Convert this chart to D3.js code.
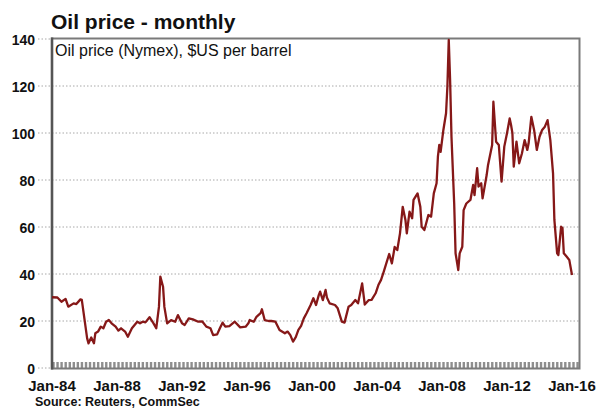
<!DOCTYPE html>
<html>
<head>
<meta charset="utf-8">
<script src="https://cdn.jsdelivr.net/npm/d3@7"></script>
<style>
  body { margin: 0; background: #fff; }
  svg { display: block; }
  text { font-family: "Liberation Sans", Arial, sans-serif; }
</style>
</head>
<body>
<svg id="chart" width="598" height="409"></svg>
<script>
// Nymex oil price, $US per barrel (month, price)
const months = [
  "1984-01","1984-05","1984-08","1984-11","1985-01","1985-05","1985-07","1985-10","1985-11",
  "1986-03","1986-04","1986-06","1986-08","1986-09","1986-11","1987-01","1987-03","1987-05",
  "1987-07","1987-09","1987-12","1988-02","1988-04","1988-07","1988-09","1988-12","1989-04",
  "1989-06","1989-08","1989-10","1990-01","1990-04","1990-06","1990-08","1990-09","1990-11",
  "1990-12","1991-02","1991-05","1991-08","1991-10","1992-01","1992-03","1992-06","1992-09",
  "1993-01","1993-04","1993-07","1993-10","1993-12","1994-03","1994-05","1994-07","1994-09",
  "1994-12","1995-04","1995-08","1995-12","1996-02","1996-03","1996-06","1996-08","1996-11",
  "1996-12","1997-02","1997-05","1997-07","1997-10","1998-01","1998-05","1998-07","1998-09",
  "1998-11","1999-01","1999-03","1999-05","1999-07","1999-09","1999-12","2000-02","2000-04",
  "2000-06","2000-07","2000-09","2000-11","2000-12","2001-02","2001-06","2001-08","2001-11",
  "2002-01","2002-04","2002-06","2002-09","2002-11","2003-02","2003-04","2003-07","2003-09",
  "2003-12","2004-02","2004-04","2004-06","2004-10","2004-12","2005-02","2005-04","2005-06",
  "2005-08","2005-10","2005-11","2006-01","2006-03","2006-04","2006-07","2006-09","2006-10",
  "2006-12","2007-03","2007-05","2007-07","2007-09","2007-10","2007-11","2007-12","2008-02",
  "2008-04","2008-05","2008-06","2008-07","2008-08","2008-10","2008-11","2009-01","2009-02",
  "2009-04","2009-05","2009-07","2009-10","2009-12","2010-01","2010-03","2010-04","2010-06",
  "2010-07","2010-10","2010-11","2011-02","2011-03","2011-05","2011-07","2011-09","2011-11",
  "2012-01","2012-03","2012-04","2012-05","2012-06","2012-08","2012-10","2012-12","2013-02",
  "2013-04","2013-05","2013-07","2013-09","2013-11","2014-01","2014-03","2014-05","2014-07",
  "2014-09","2014-11","2014-12","2015-02","2015-03","2015-05","2015-06","2015-07","2015-09",
  "2015-11","2016-01"
];
const prices = [
  30.1, 30.0, 28.2, 29.4, 26.1, 27.5, 27.2, 29.2, 29.0,
  12.6, 10.5, 13.0, 10.5, 14.8, 15.5, 17.6, 16.9, 19.7,
  20.4, 19.0, 17.6, 15.9, 16.9, 15.5, 13.3, 16.9, 19.7,
  19.0, 19.7, 19.4, 21.6, 19.0, 16.9, 26.0, 38.9, 34.6,
  26.0, 19.0, 20.4, 19.7, 22.5, 19.0, 18.3, 21.1, 20.7,
  19.7, 19.8, 17.6, 16.9, 14.0, 14.3, 16.9, 19.3, 17.6,
  17.8, 19.7, 17.3, 17.6, 19.0, 20.4, 19.7, 21.8, 23.3,
  25.0, 20.4, 20.0, 20.0, 19.7, 16.2, 14.8, 15.5, 14.0,
  11.2, 13.1, 16.2, 17.9, 21.1, 23.3, 26.8, 29.7, 26.8,
  31.0, 32.5, 28.9, 33.2, 30.0, 27.5, 26.8, 25.4, 19.7,
  19.3, 26.1, 26.8, 28.9, 27.5, 36.0, 27.0, 28.9, 29.0,
  31.8, 35.3, 37.5, 41.0, 48.5, 44.5, 51.5, 50.2, 57.3,
  68.6, 63.0, 57.3, 66.5, 63.7, 71.5, 74.3, 68.6, 60.1,
  58.7, 65.1, 64.4, 74.3, 78.6, 89.9, 94.9, 92.0, 101.3,
  108.4, 119.7, 139.6, 122.6, 98.4, 70.0, 48.8, 41.7, 48.8,
  51.6, 67.2, 70.0, 71.5, 77.9, 73.6, 85.0, 77.2, 78.6,
  72.2, 82.1, 86.4, 94.9, 113.3, 96.3, 94.9, 79.3, 94.2,
  99.9, 106.2, 103.4, 100.0, 85.7, 96.3, 87.1, 91.3, 97.0,
  92.8, 95.6, 106.9, 101.3, 92.8, 98.4, 101.3, 102.7, 105.5,
  97.0, 82.8, 63.0, 48.8, 48.1, 60.1, 59.5, 48.8, 47.4,
  46.0, 39.6
];
const yTicks = [0, 20, 40, 60, 80, 100, 120, 140];
const xTickYears = [1984, 1988, 1992, 1996, 2000, 2004, 2008, 2012, 2016];
const xTickLabels = ["Jan-84", "Jan-88", "Jan-92", "Jan-96", "Jan-00", "Jan-04", "Jan-08", "Jan-12", "Jan-16"];

const parseMonth = d3.timeParse("%Y-%m");
const series = months.map((m, i) => ({ date: parseMonth(m), value: prices[i] }));

const svg = d3.select("#chart");
const plot = { left: 52, right: 579.5, top: 38.5, bottom: 368.5 };

// Jan-84 sits on the left edge; Jan-16 sits a little inside the right edge
const x = d3.scaleTime()
  .domain([new Date(1984, 0, 1), new Date(2016, 0, 1)])
  .range([plot.left, plot.left + 520]);
const y = d3.scaleLinear().domain([0, 140]).range([368, 39]);

// Title
svg.append("text")
  .attr("x", 51).attr("y", 28.5)
  .attr("font-size", 21).attr("font-weight", "bold").attr("fill", "#111")
  .text("Oil price - monthly");

// Dotted horizontal gridlines (also run a little left of the axis)
svg.append("g").selectAll("line").data(yTicks).join("line")
  .attr("x1", 38).attr("x2", d => (d === 0 || d === 140) ? plot.left : plot.right)
  .attr("y1", d => y(d)).attr("y2", d => y(d))
  .attr("stroke", "#a8a8a8").attr("stroke-width", 1)
  .attr("stroke-dasharray", "1.5,2");

// Y tick labels
svg.append("g").selectAll("text").data(yTicks).join("text")
  .attr("x", 35).attr("y", d => y(d) + 1)
  .attr("dy", "0.35em").attr("text-anchor", "end")
  .attr("font-size", 14).attr("font-weight", "bold").attr("fill", "#111")
  .text(d => d);

// Quarterly tick band along the bottom axis
const quarters = d3.timeMonth.every(3).range(new Date(1984, 0, 1), x.invert(plot.right - 1));
svg.append("g").selectAll("line").data(quarters).join("line")
  .attr("x1", d => x(d) + 1.5).attr("x2", d => x(d) + 1.5)
  .attr("y1", 362).attr("y2", 368.5)
  .attr("stroke", "#8e8e8e").attr("stroke-width", 2.4);

// Plot frame
svg.append("rect")
  .attr("x", plot.left).attr("y", plot.top)
  .attr("width", plot.right - plot.left).attr("height", plot.bottom - plot.top)
  .attr("fill", "none").attr("stroke", "#7a7a7a").attr("stroke-width", 2);
svg.append("line")
  .attr("x1", plot.left).attr("x2", plot.left)
  .attr("y1", plot.top - 1).attr("y2", plot.bottom + 1)
  .attr("stroke", "#555").attr("stroke-width", 2.6);

// X tick labels
svg.append("g").selectAll("text").data(xTickYears).join("text")
  .attr("x", d => x(new Date(d, 0, 1))).attr("y", 390.5)
  .attr("text-anchor", "middle")
  .attr("font-size", 15).attr("font-weight", "bold").attr("fill", "#111")
  .text((d, i) => xTickLabels[i]);

// Series label inside the plot
svg.append("text")
  .attr("x", 55).attr("y", 55.5)
  .attr("font-size", 16).attr("fill", "#111")
  .text("Oil price (Nymex), $US per barrel");

// Price line
const line = d3.line().x(d => x(d.date)).y(d => y(d.value));
svg.append("path")
  .datum(series)
  .attr("d", line)
  .attr("fill", "none")
  .attr("stroke", "#861818").attr("stroke-width", 2.3)
  .attr("stroke-linejoin", "round");

// Source note
svg.append("text")
  .attr("x", 35).attr("y", 406)
  .attr("font-size", 12.5).attr("font-weight", "bold").attr("fill", "#111")
  .text("Source: Reuters, CommSec");
</script>
</body>
</html>
